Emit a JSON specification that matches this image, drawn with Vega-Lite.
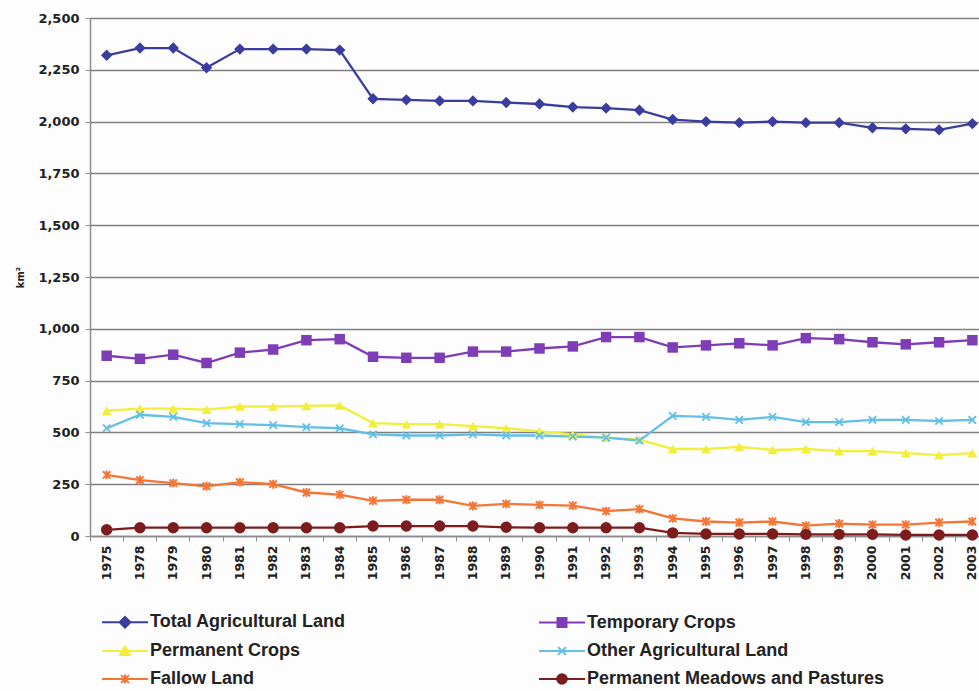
{
  "$schema": "https://vega.github.io/schema/vega-lite/v6.json",
  "width": 889,
  "height": 518,
  "autosize": {"type": "none"},
  "padding": {"left": 90, "top": 18, "right": 0, "bottom": 155},
  "background": "#fdfdfd",
  "config": {
    "view": {"stroke": null},
    "font": "Liberation Sans",
    "axis": {
      "labelFont": "DejaVu Sans",
      "labelFontWeight": "bold",
      "labelColor": "#222222",
      "labelFontSize": 13,
      "domainColor": "#8c8c8c",
      "domainWidth": 1.5,
      "tickColor": "#8c8c8c",
      "gridColor": "#7f7f7f",
      "gridWidth": 1.5
    }
  },
  "data": {
    "values": [
      {"year": "1975", "Total Agricultural Land": 2320, "Temporary Crops": 870, "Permanent Crops": 605, "Other Agricultural Land": 520, "Fallow Land": 295, "Permanent Meadows and Pastures": 30},
      {"year": "1978", "Total Agricultural Land": 2355, "Temporary Crops": 855, "Permanent Crops": 615, "Other Agricultural Land": 585, "Fallow Land": 270, "Permanent Meadows and Pastures": 40},
      {"year": "1979", "Total Agricultural Land": 2355, "Temporary Crops": 875, "Permanent Crops": 615, "Other Agricultural Land": 575, "Fallow Land": 255, "Permanent Meadows and Pastures": 40},
      {"year": "1980", "Total Agricultural Land": 2260, "Temporary Crops": 835, "Permanent Crops": 610, "Other Agricultural Land": 545, "Fallow Land": 240, "Permanent Meadows and Pastures": 40},
      {"year": "1981", "Total Agricultural Land": 2350, "Temporary Crops": 885, "Permanent Crops": 625, "Other Agricultural Land": 540, "Fallow Land": 260, "Permanent Meadows and Pastures": 40},
      {"year": "1982", "Total Agricultural Land": 2350, "Temporary Crops": 900, "Permanent Crops": 625, "Other Agricultural Land": 535, "Fallow Land": 250, "Permanent Meadows and Pastures": 40},
      {"year": "1983", "Total Agricultural Land": 2350, "Temporary Crops": 945, "Permanent Crops": 628, "Other Agricultural Land": 525, "Fallow Land": 210, "Permanent Meadows and Pastures": 40},
      {"year": "1984", "Total Agricultural Land": 2345, "Temporary Crops": 950, "Permanent Crops": 630, "Other Agricultural Land": 520, "Fallow Land": 200, "Permanent Meadows and Pastures": 40},
      {"year": "1985", "Total Agricultural Land": 2110, "Temporary Crops": 865, "Permanent Crops": 545, "Other Agricultural Land": 490, "Fallow Land": 170, "Permanent Meadows and Pastures": 48},
      {"year": "1986", "Total Agricultural Land": 2105, "Temporary Crops": 860, "Permanent Crops": 540, "Other Agricultural Land": 485, "Fallow Land": 175, "Permanent Meadows and Pastures": 48},
      {"year": "1987", "Total Agricultural Land": 2100, "Temporary Crops": 860, "Permanent Crops": 540, "Other Agricultural Land": 485, "Fallow Land": 175, "Permanent Meadows and Pastures": 48},
      {"year": "1988", "Total Agricultural Land": 2100, "Temporary Crops": 890, "Permanent Crops": 530, "Other Agricultural Land": 490, "Fallow Land": 145, "Permanent Meadows and Pastures": 48},
      {"year": "1989", "Total Agricultural Land": 2092, "Temporary Crops": 890, "Permanent Crops": 520, "Other Agricultural Land": 485, "Fallow Land": 155, "Permanent Meadows and Pastures": 42},
      {"year": "1990", "Total Agricultural Land": 2085, "Temporary Crops": 905, "Permanent Crops": 505, "Other Agricultural Land": 485, "Fallow Land": 150, "Permanent Meadows and Pastures": 40},
      {"year": "1991", "Total Agricultural Land": 2070, "Temporary Crops": 915, "Permanent Crops": 490, "Other Agricultural Land": 480, "Fallow Land": 147, "Permanent Meadows and Pastures": 40},
      {"year": "1992", "Total Agricultural Land": 2065, "Temporary Crops": 960, "Permanent Crops": 475, "Other Agricultural Land": 475, "Fallow Land": 120, "Permanent Meadows and Pastures": 40},
      {"year": "1993", "Total Agricultural Land": 2055, "Temporary Crops": 960, "Permanent Crops": 465, "Other Agricultural Land": 460, "Fallow Land": 130, "Permanent Meadows and Pastures": 40},
      {"year": "1994", "Total Agricultural Land": 2010, "Temporary Crops": 910, "Permanent Crops": 420, "Other Agricultural Land": 580, "Fallow Land": 85, "Permanent Meadows and Pastures": 15},
      {"year": "1995", "Total Agricultural Land": 2000, "Temporary Crops": 920, "Permanent Crops": 420, "Other Agricultural Land": 575, "Fallow Land": 70, "Permanent Meadows and Pastures": 10},
      {"year": "1996", "Total Agricultural Land": 1995, "Temporary Crops": 930, "Permanent Crops": 430, "Other Agricultural Land": 560, "Fallow Land": 65, "Permanent Meadows and Pastures": 10},
      {"year": "1997", "Total Agricultural Land": 2000, "Temporary Crops": 920, "Permanent Crops": 415, "Other Agricultural Land": 575, "Fallow Land": 70, "Permanent Meadows and Pastures": 10},
      {"year": "1998", "Total Agricultural Land": 1995, "Temporary Crops": 955, "Permanent Crops": 420, "Other Agricultural Land": 550, "Fallow Land": 50, "Permanent Meadows and Pastures": 8},
      {"year": "1999", "Total Agricultural Land": 1995, "Temporary Crops": 950, "Permanent Crops": 410, "Other Agricultural Land": 550, "Fallow Land": 60, "Permanent Meadows and Pastures": 8},
      {"year": "2000", "Total Agricultural Land": 1970, "Temporary Crops": 935, "Permanent Crops": 410, "Other Agricultural Land": 560, "Fallow Land": 55, "Permanent Meadows and Pastures": 8},
      {"year": "2001", "Total Agricultural Land": 1965, "Temporary Crops": 925, "Permanent Crops": 400, "Other Agricultural Land": 560, "Fallow Land": 55, "Permanent Meadows and Pastures": 5},
      {"year": "2002", "Total Agricultural Land": 1960, "Temporary Crops": 935, "Permanent Crops": 390, "Other Agricultural Land": 555, "Fallow Land": 65, "Permanent Meadows and Pastures": 5},
      {"year": "2003", "Total Agricultural Land": 1990, "Temporary Crops": 945, "Permanent Crops": 400, "Other Agricultural Land": 560, "Fallow Land": 70, "Permanent Meadows and Pastures": 5}
    ]
  },
  "transform": [
    {"fold": ["Total Agricultural Land", "Temporary Crops", "Permanent Crops", "Other Agricultural Land", "Fallow Land", "Permanent Meadows and Pastures"], "as": ["series", "km2"]}
  ],
  "resolve": {"axis": {"x": "independent"}},
  "layer": [
    {
      "mark": {"type": "line", "strokeWidth": 2.3},
      "encoding": {
        "x": {
          "field": "year", "type": "ordinal",
          "scale": {"type": "band", "paddingInner": 0, "paddingOuter": 0, "range": [0, 899]},
          "axis": {"orient": "bottom", "title": null, "labelAngle": -90, "labelAlign": "right", "labelBaseline": "middle", "labelFontSize": 12.5, "ticks": false, "labelPadding": 9, "domain": true}
        },
        "y": {
          "field": "km2", "type": "quantitative",
          "scale": {"domain": [0, 2500], "nice": false},
          "axis": {"title": "km²", "titleFont": "DejaVu Sans", "titleFontSize": 10, "titleFontWeight": "bold", "titleColor": "#222222", "titlePadding": 12, "values": [0, 250, 500, 750, 1000, 1250, 1500, 1750, 2000, 2250, 2500], "format": ",d", "tickSize": 5, "labelPadding": 6}
        },
        "color": {
          "field": "series", "type": "nominal",
          "scale": {
            "domain": ["Total Agricultural Land", "Permanent Crops", "Fallow Land", "Temporary Crops", "Other Agricultural Land", "Permanent Meadows and Pastures"],
            "range": ["#3b3d9e", "#f2ee3c", "#f47535", "#7e3cb6", "#62bfe6", "#7c1c1c"]
          },
          "legend": {
            "title": null,
            "orient": "none",
            "legendX": 26,
            "legendY": 595,
            "columns": 2,
            "gridAlign": "each",
            "columnPadding": 189,
            "rowPadding": 10,
            "symbolSize": 144,
            "labelOffset": 16,
            "labelFont": "Liberation Sans",
            "labelFontWeight": "bold",
            "labelFontSize": 18,
            "labelColor": "#222222",
            "labelLimit": 400,
            "encode": {
              "symbols": {
                "update": {
                  "shape": {"signal": "datum.value === 'Total Agricultural Land' ? 'M-3.83,0H3.83M0,-0.9L0.9,0L0,0.9L-0.9,0Z' : datum.value === 'Temporary Crops' ? 'M-3.83,0H3.83M-0.75,-0.75H0.75V0.75H-0.75Z' : datum.value === 'Permanent Crops' ? 'M-3.83,0H3.83M0,-0.8L0.82,0.65H-0.82Z' : datum.value === 'Other Agricultural Land' ? 'M-3.83,0H3.83M-0.65,-0.65L0.65,0.65M-0.65,0.65L0.65,-0.65' : datum.value === 'Fallow Land' ? 'M-3.83,0H3.83M-0.65,-0.65L0.65,0.65M-0.65,0.65L0.65,-0.65M0,-0.75V0.75' : 'M-3.83,0H3.83M0.8,0A0.8,0.8,0,1,1,-0.8,0A0.8,0.8,0,1,1,0.8,0Z'"},
                  "size": {"value": 144},
                  "fill": {"signal": "scale('color', datum.value)"},
                  "stroke": {"signal": "scale('color', datum.value)"},
                  "strokeWidth": {"value": 2},
                  "opacity": {"value": 1}
                }
              }
            }
          }
        }
      }
    },
    {
      "transform": [{"filter": "datum.series === 'Total Agricultural Land'"}],
      "mark": {"type": "point", "shape": "diamond", "filled": true, "opacity": 1, "size": 130},
      "encoding": {
        "x": {
          "field": "year", "type": "ordinal",
          "axis": {"orient": "bottom", "title": null, "labels": false, "domain": false, "grid": false, "ticks": true, "tickSize": 5, "bandPosition": 0}
        },
        "y": {"field": "km2", "type": "quantitative"},
        "color": {"field": "series", "type": "nominal", "legend": null}
      }
    },
    {
      "transform": [{"filter": "datum.series === 'Temporary Crops'"}],
      "mark": {"type": "point", "shape": "square", "filled": true, "opacity": 1, "size": 110},
      "encoding": {
        "x": {"field": "year", "type": "ordinal", "axis": null},
        "y": {"field": "km2", "type": "quantitative"},
        "color": {"field": "series", "type": "nominal", "legend": null}
      }
    },
    {
      "transform": [{"filter": "datum.series === 'Permanent Crops'"}],
      "mark": {"type": "point", "shape": "triangle-up", "filled": true, "opacity": 1, "size": 100},
      "encoding": {
        "x": {"field": "year", "type": "ordinal", "axis": null},
        "y": {"field": "km2", "type": "quantitative"},
        "color": {"field": "series", "type": "nominal", "legend": null}
      }
    },
    {
      "transform": [{"filter": "datum.series === 'Other Agricultural Land'"}],
      "mark": {"type": "point", "shape": "M-1,-1L1,1M-1,1L1,-1", "filled": false, "opacity": 1, "size": 55, "strokeWidth": 1.8},
      "encoding": {
        "x": {"field": "year", "type": "ordinal", "axis": null},
        "y": {"field": "km2", "type": "quantitative"},
        "color": {"field": "series", "type": "nominal", "legend": null}
      }
    },
    {
      "transform": [{"filter": "datum.series === 'Fallow Land'"}],
      "mark": {"type": "point", "shape": "M-1,-1L1,1M-1,1L1,-1M0,-1.2V1.2", "filled": false, "opacity": 1, "size": 55, "strokeWidth": 2},
      "encoding": {
        "x": {"field": "year", "type": "ordinal", "axis": null},
        "y": {"field": "km2", "type": "quantitative"},
        "color": {"field": "series", "type": "nominal", "legend": null}
      }
    },
    {
      "transform": [{"filter": "datum.series === 'Permanent Meadows and Pastures'"}],
      "mark": {"type": "point", "shape": "circle", "filled": true, "opacity": 1, "size": 130},
      "encoding": {
        "x": {"field": "year", "type": "ordinal", "axis": null},
        "y": {"field": "km2", "type": "quantitative"},
        "color": {"field": "series", "type": "nominal", "legend": null}
      }
    }
  ]
}
